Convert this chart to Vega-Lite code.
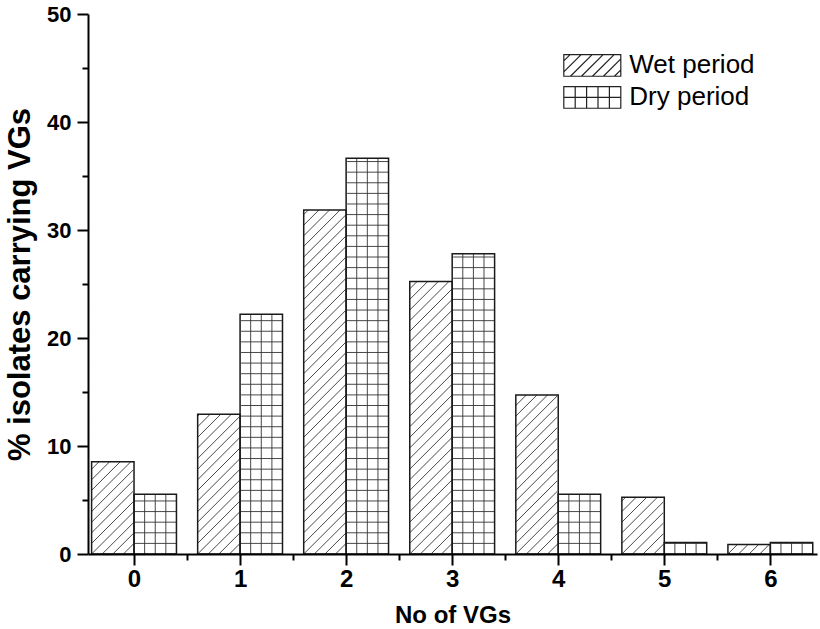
{
  "$schema": "https://vega.github.io/schema/vega-lite/v6.json",
  "width": 729,
  "height": 540,
  "autosize": "none",
  "padding": {"left": 88, "top": 14, "right": 3, "bottom": 75},
  "config": {"view": {"stroke": null}, "font": "Liberation Sans", "scale": {"continuousPadding": 0}},
  "data": {"values": [
    {"vg": 0, "period": "Wet period", "pct": 8.54},
    {"vg": 1, "period": "Wet period", "pct": 12.93},
    {"vg": 2, "period": "Wet period", "pct": 31.86},
    {"vg": 3, "period": "Wet period", "pct": 25.22},
    {"vg": 4, "period": "Wet period", "pct": 14.72},
    {"vg": 5, "period": "Wet period", "pct": 5.26},
    {"vg": 6, "period": "Wet period", "pct": 0.88},
    {"vg": 0, "period": "Dry period", "pct": 5.54},
    {"vg": 1, "period": "Dry period", "pct": 22.2},
    {"vg": 2, "period": "Dry period", "pct": 36.65},
    {"vg": 3, "period": "Dry period", "pct": 27.79},
    {"vg": 4, "period": "Dry period", "pct": 5.54},
    {"vg": 5, "period": "Dry period", "pct": 1.07},
    {"vg": 6, "period": "Dry period", "pct": 1.07}
  ]},
  "resolve": {"axis": {"x": "independent", "y": "independent"}},
  "layer": [
    {
      "transform": [{"filter": "datum.period === 'Wet period'"}],
      "mark": {"type": "point", "filled": false, "opacity": 1, "stroke": "#333", "strokeWidth": 0.9, "size": 450, "xOffset": -21.21,
        "shape": "M1,0L2,-1M0,0L2,-2M-1,0L2,-3M-2,0L2,-4M-2,-1L2,-5M-2,-2L2,-6M-2,-3L2,-7M-2,-4L2,-8M-2,-5L2,-9M-2,-6L2,-10M-2,-7L2,-11M-2,-8L2,-12M-2,-9L2,-13M-2,-10L2,-14M-2,-11L2,-15M-2,-12L2,-16M-2,-13L2,-17M-2,-14L2,-18M-2,-15L2,-19M-2,-16L2,-20M-2,-17L2,-21M-2,-18L2,-22M-2,-19L2,-23M-2,-20L2,-24M-2,-21L2,-25M-2,-22L2,-26M-2,-23L2,-27M-2,-24L2,-28M-2,-25L2,-29M-2,-26L2,-30M-2,-27L2,-31M-2,-28L2,-32M-2,-29L2,-33M-2,-30L2,-34M-2,-31L2,-35M-2,-32L2,-36M-2,-33L2,-37"},
      "encoding": {
        "x": {"field": "vg", "type": "quantitative", "scale": {"domain": [-0.434, 6.44], "nice": false, "zero": false, "padding": 0}, "axis": null},
        "y": {"datum": 0, "type": "quantitative", "scale": {"domain": [0, 50], "nice": false, "padding": 0}, "axis": null}
      }
    },
    {
      "transform": [{"filter": "datum.period === 'Dry period'"}],
      "mark": {"type": "point", "filled": false, "opacity": 1, "stroke": "#333", "strokeWidth": 0.9, "size": 450, "xOffset": 21.21,
        "shape": "M-1,0V-38M0,0V-38M1,0V-38M-2,-1H2M-2,-2H2M-2,-3H2M-2,-4H2M-2,-5H2M-2,-6H2M-2,-7H2M-2,-8H2M-2,-9H2M-2,-10H2M-2,-11H2M-2,-12H2M-2,-13H2M-2,-14H2M-2,-15H2M-2,-16H2M-2,-17H2M-2,-18H2M-2,-19H2M-2,-20H2M-2,-21H2M-2,-22H2M-2,-23H2M-2,-24H2M-2,-25H2M-2,-26H2M-2,-27H2M-2,-28H2M-2,-29H2M-2,-30H2M-2,-31H2M-2,-32H2M-2,-33H2M-2,-34H2M-2,-35H2M-2,-36H2M-2,-37H2M-2,-38H2"},
      "encoding": {
        "x": {"field": "vg", "type": "quantitative", "axis": null},
        "y": {"datum": 0, "type": "quantitative", "axis": null}
      }
    },
    {
      "transform": [{"filter": "datum.period === 'Wet period'"}],
      "mark": {"type": "bar", "fill": "white", "stroke": null, "width": 44.4, "xOffset": -21.21},
      "encoding": {
        "x": {"field": "vg", "type": "quantitative", "axis": null},
        "y": {"field": "pct", "type": "quantitative", "axis": null},
        "y2": {"datum": 50}
      }
    },
    {
      "transform": [{"filter": "datum.period === 'Dry period'"}],
      "mark": {"type": "bar", "fill": "white", "stroke": null, "width": 44.4, "xOffset": 21.21},
      "encoding": {
        "x": {"field": "vg", "type": "quantitative", "axis": null},
        "y": {"field": "pct", "type": "quantitative", "axis": null},
        "y2": {"datum": 50}
      }
    },
    {
      "transform": [{"filter": "datum.period === 'Wet period'"}],
      "mark": {"type": "bar", "fill": "transparent", "stroke": "#1a1a1a", "strokeWidth": 1.5, "width": 42.42, "xOffset": -21.21},
      "encoding": {
        "x": {"field": "vg", "type": "quantitative",
          "axis": {"orient": "bottom", "values": [0, 1, 2, 3, 4, 5, 6], "format": "d", "zindex": 1, "grid": false,
            "domainColor": "black", "domainWidth": 2, "tickColor": "black", "tickWidth": 2, "tickSize": 11,
            "labelFont": "Liberation Sans", "labelFontWeight": "bold", "labelFontSize": 24, "labelColor": "black", "labelPadding": 2,
            "labelFlush": false, "labelOverlap": false,
            "title": "No of VGs", "titleFont": "Liberation Sans", "titleFontWeight": "bold", "titleFontSize": 24, "titleColor": "black", "titlePadding": 12}},
        "y": {"field": "pct", "type": "quantitative",
          "axis": {"orient": "left", "values": [0, 10, 20, 30, 40, 50], "format": "d", "zindex": 1, "grid": false,
            "domainColor": "black", "domainWidth": 2, "tickColor": "black", "tickWidth": 2, "tickSize": 11,
            "labelFont": "Liberation Sans", "labelFontWeight": "bold", "labelFontSize": 22, "labelColor": "black", "labelPadding": 6,
            "labelFlush": false, "labelOverlap": false,
            "title": "% isolates carrying VGs", "titleFont": "Liberation Sans", "titleFontWeight": "bold", "titleFontSize": 31, "titleColor": "black", "titlePadding": 10}},
        "y2": {"datum": 0}
      }
    },
    {
      "transform": [{"filter": "datum.period === 'Dry period'"}],
      "mark": {"type": "bar", "fill": "transparent", "stroke": "#1a1a1a", "strokeWidth": 1.5, "width": 42.42, "xOffset": 21.21},
      "encoding": {
        "x": {"field": "vg", "type": "quantitative",
          "axis": {"orient": "bottom", "values": [0.5, 1.5, 2.5, 3.5, 4.5, 5.5], "zindex": 1, "grid": false, "domain": false, "labels": false,
            "tickColor": "black", "tickWidth": 2, "tickSize": 6, "title": null}},
        "y": {"field": "pct", "type": "quantitative",
          "axis": {"orient": "left", "values": [5, 15, 25, 35, 45], "zindex": 1, "grid": false, "domain": false, "labels": false,
            "tickColor": "black", "tickWidth": 2, "tickSize": 6, "title": null}},
        "y2": {"datum": 0}
      }
    },
    {
      "transform": [{"filter": "false"}],
      "mark": {"type": "point", "filled": false, "stroke": "#222", "color": "#222", "strokeWidth": 1.2, "opacity": 1, "size": 400},
      "encoding": {
        "x": {"field": "vg", "type": "quantitative", "axis": null},
        "y": {"field": "pct", "type": "quantitative", "axis": null},
        "shape": {"field": "period", "type": "nominal",
          "scale": {"domain": ["Wet period", "Dry period"],
            "range": [
              "M-2.85,-1.085H2.85V1.085H-2.85ZM-2.85,-0.45L-2.215,-1.085M-2.85,0.65L-1.115,-1.085M-2.185,1.085L-0.015,-1.085M-1.085,1.085L1.085,-1.085M0.015,1.085L2.185,-1.085M1.115,1.085L2.85,-0.65M2.215,1.085L2.85,0.45",
              "M-2.85,-1.085H2.85V1.085H-2.85ZM-1.71,-1.085V1.085M-0.57,-1.085V1.085M0.57,-1.085V1.085M1.71,-1.085V1.085M-2.85,0H2.85"
            ]},
          "legend": {"orient": "none", "legendX": 491.3, "legendY": 38.4, "title": null, "padding": 0,
            "symbolSize": 400, "symbolStrokeColor": "#222", "symbolStrokeWidth": 1.2, "symbolOpacity": 1,
            "labelFont": "Liberation Sans", "labelFontSize": 26, "labelColor": "black", "labelOffset": 24, "labelLimit": 0, "rowPadding": 4}}
      }
    }
  ]
}
